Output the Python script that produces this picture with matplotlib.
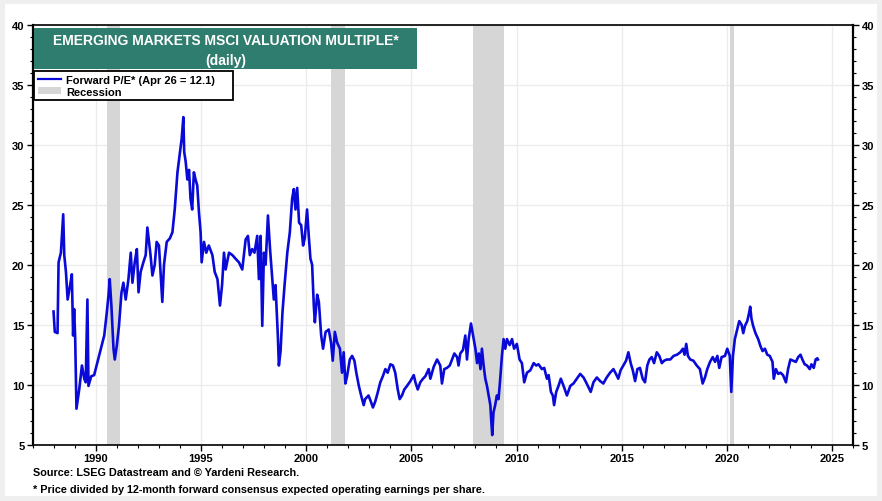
import matplotlib
matplotlib.use("Agg")
import matplotlib.pyplot as plt
from matplotlib.patches import Rectangle, Patch
from matplotlib.lines import Line2D
from matplotlib.ticker import MultipleLocator

plt.rcParams['font.family'] = ['Liberation Sans', 'DejaVu Sans']

# ---- data ----
years = [
    1987.99, 1988.05, 1988.18, 1988.23, 1988.34, 1988.45, 1988.50, 1988.58, 1988.66, 1988.78,
    1988.86, 1988.92, 1988.97, 1989.02, 1989.08, 1989.21, 1989.34, 1989.45, 1989.52, 1989.60,
    1989.65, 1989.78, 1989.92, 1990.08, 1990.24, 1990.40, 1990.52, 1990.60, 1990.66, 1990.74,
    1990.84, 1990.90, 1991.00, 1991.10, 1991.22, 1991.31, 1991.42, 1991.55, 1991.66, 1991.74,
    1991.85, 1991.95, 1992.03, 1992.13, 1992.26, 1992.37, 1992.45, 1992.53, 1992.60, 1992.69,
    1992.80, 1992.89, 1993.00, 1993.16, 1993.24, 1993.37, 1993.52, 1993.64, 1993.75, 1993.88,
    1994.00, 1994.08, 1994.16, 1994.20, 1994.27, 1994.35, 1994.43, 1994.50, 1994.58, 1994.66,
    1994.74, 1994.82, 1994.90, 1994.98, 1995.03, 1995.14, 1995.25, 1995.37, 1995.54, 1995.65,
    1995.78, 1995.90, 1996.00, 1996.09, 1996.17, 1996.33, 1996.49, 1996.64, 1996.80, 1996.96,
    1997.12, 1997.23, 1997.32, 1997.43, 1997.54, 1997.67, 1997.75, 1997.83, 1997.91, 1997.99,
    1998.07, 1998.18, 1998.28, 1998.36, 1998.46, 1998.54, 1998.65, 1998.70, 1998.78, 1998.87,
    1998.97, 1999.10, 1999.22, 1999.33, 1999.41, 1999.49, 1999.57, 1999.66, 1999.76, 1999.85,
    1999.93, 2000.04, 2000.12, 2000.20, 2000.28, 2000.36, 2000.41, 2000.52, 2000.60, 2000.71,
    2000.80, 2000.92, 2001.07, 2001.18, 2001.26, 2001.36, 2001.47, 2001.60, 2001.70, 2001.78,
    2001.86, 2001.94, 2002.07, 2002.18, 2002.29, 2002.38, 2002.50, 2002.61, 2002.73, 2002.80,
    2002.96, 2003.07, 2003.17, 2003.28, 2003.39, 2003.52, 2003.64, 2003.76, 2003.87, 2004.00,
    2004.12, 2004.23, 2004.35, 2004.44, 2004.55, 2004.66, 2004.79, 2004.95, 2005.11, 2005.19,
    2005.30, 2005.42, 2005.55, 2005.66, 2005.82, 2005.90, 2006.06, 2006.22, 2006.37, 2006.45,
    2006.56, 2006.69, 2006.82, 2006.93, 2007.04, 2007.17, 2007.24, 2007.32, 2007.45, 2007.56,
    2007.64, 2007.72, 2007.83, 2007.93, 2008.04, 2008.12, 2008.20, 2008.28, 2008.35, 2008.43,
    2008.51, 2008.59, 2008.67, 2008.75, 2008.79, 2008.84, 2008.90, 2008.98, 2009.06, 2009.14,
    2009.22, 2009.30, 2009.38, 2009.46, 2009.54, 2009.67, 2009.78, 2009.88, 2010.01, 2010.14,
    2010.25, 2010.36, 2010.49, 2010.65, 2010.81, 2010.93, 2011.04, 2011.20, 2011.31, 2011.44,
    2011.52, 2011.63, 2011.72, 2011.78, 2011.88, 2011.99, 2012.10, 2012.23, 2012.39, 2012.55,
    2012.70, 2012.86, 2013.02, 2013.18, 2013.30, 2013.41, 2013.52, 2013.65, 2013.81, 2013.97,
    2014.12, 2014.28, 2014.44, 2014.60, 2014.72, 2014.83, 2014.94, 2015.07, 2015.20, 2015.31,
    2015.42, 2015.52, 2015.63, 2015.74, 2015.86, 2015.99, 2016.10, 2016.21, 2016.31, 2016.42,
    2016.53, 2016.66, 2016.78, 2016.90, 2017.01, 2017.14, 2017.30, 2017.46, 2017.62, 2017.78,
    2017.90, 2017.98, 2018.06, 2018.14, 2018.25, 2018.40, 2018.56, 2018.71, 2018.84, 2018.95,
    2019.06, 2019.19, 2019.32, 2019.43, 2019.54, 2019.63, 2019.74, 2019.90, 2020.01, 2020.13,
    2020.20, 2020.28, 2020.37, 2020.48, 2020.58, 2020.69, 2020.77, 2020.85, 2020.96, 2021.05,
    2021.10, 2021.16, 2021.24, 2021.35, 2021.48, 2021.59, 2021.69, 2021.80, 2021.91, 2022.03,
    2022.16, 2022.22, 2022.32, 2022.43, 2022.54, 2022.66, 2022.80, 2022.90, 2023.01, 2023.14,
    2023.27, 2023.38, 2023.49, 2023.58, 2023.69, 2023.80, 2023.93, 2024.01, 2024.12, 2024.21,
    2024.29, 2024.32,
]
forward_pe = [
    16.1, 14.4, 14.3, 20.2, 21.0, 24.2, 20.8, 19.4, 17.1, 18.3,
    19.2, 14.1, 16.3, 13.8, 8.0, 9.6, 11.6, 10.5, 10.2, 17.1,
    9.9, 10.7, 10.8, 11.9, 13.0, 14.1, 16.0, 17.4, 18.8, 16.6,
    13.0, 12.1, 13.3, 14.9, 17.7, 18.5, 17.1, 18.8, 21.0, 18.5,
    20.2, 21.3, 17.7, 19.4, 20.2, 20.8, 23.1, 21.9, 20.8, 19.1,
    20.0, 21.9, 21.6, 16.9, 20.0, 21.9, 22.2, 22.7, 24.6, 27.7,
    29.4, 30.5, 32.3, 29.4, 28.6, 27.1, 27.9, 25.5, 24.6, 27.7,
    27.1, 26.6, 24.4, 22.7, 20.2, 21.9, 21.0, 21.6, 20.8, 19.4,
    18.8, 16.6, 18.3, 21.0, 19.6, 21.0, 20.8, 20.5, 20.2, 19.6,
    22.1, 22.4, 20.8, 21.3, 21.0, 22.4, 18.8, 22.4, 14.9, 21.0,
    20.0, 24.1, 21.3, 19.4, 17.1, 18.3, 14.1, 11.6, 12.8, 16.0,
    18.3, 21.0, 22.7, 25.5, 26.3, 24.6, 26.4, 23.5, 23.3, 21.6,
    22.2, 24.6, 22.4, 20.5, 20.0, 16.6, 15.2, 17.5, 16.9, 14.1,
    13.0, 14.4, 14.6, 13.5, 12.0, 14.4, 13.5, 13.0, 11.0, 12.7,
    10.1, 10.7, 12.1, 12.4, 12.0, 11.0, 9.9, 9.1, 8.3, 8.8,
    9.1, 8.6, 8.1, 8.6, 9.3, 10.2, 10.7, 11.3, 11.0, 11.7,
    11.6, 11.0, 9.6, 8.8, 9.1, 9.6, 9.9, 10.3, 10.8, 10.2,
    9.6, 10.2, 10.5, 10.7, 11.3, 10.5, 11.5, 12.1, 11.6, 10.1,
    11.3, 11.4, 11.6, 12.1, 12.6, 12.3, 11.6, 12.6, 12.9, 14.1,
    12.1, 13.8, 15.1, 14.1, 13.0, 11.8, 12.6, 11.3, 13.0, 11.6,
    10.5, 9.9, 9.1, 8.3, 7.1, 5.8, 7.7, 8.3, 9.1, 8.8,
    10.5, 12.4, 13.8, 13.0, 13.8, 13.3, 13.8, 13.0, 13.4, 12.1,
    11.8, 10.2, 11.0, 11.2, 11.8, 11.6, 11.7, 11.3, 11.4, 10.5,
    10.8, 9.4, 9.1, 8.3, 9.4, 9.9, 10.5, 9.9, 9.1, 9.9,
    10.1, 10.5, 10.9, 10.6, 10.2, 9.8, 9.4, 10.2, 10.6, 10.3,
    10.1, 10.6, 11.0, 11.3, 10.9, 10.5, 11.2, 11.6, 12.0, 12.7,
    11.8, 11.2, 10.3, 11.3, 11.4, 10.5, 10.2, 11.6, 12.1, 12.3,
    11.8, 12.7, 12.4, 11.8, 12.0, 12.1, 12.1, 12.4, 12.5, 12.7,
    13.0, 12.5, 13.4, 12.4, 12.1, 12.0, 11.6, 11.3, 10.1, 10.6,
    11.3, 11.9, 12.3, 11.9, 12.4, 11.4, 12.3, 12.4, 13.0, 12.4,
    9.4, 12.4, 13.8, 14.6, 15.3, 15.0, 14.3, 14.9, 15.3, 16.0,
    16.5, 15.5, 14.9, 14.3, 13.8, 13.2, 12.8, 13.0, 12.5, 12.4,
    11.9, 10.5, 11.3, 10.9, 11.0, 10.8, 10.2, 11.3, 12.1, 12.0,
    11.9, 12.3, 12.5, 12.1, 11.7, 11.6, 11.3, 11.7, 11.4, 12.1,
    12.2, 12.1,
]
recession_start = [1990.55, 2001.20, 2007.94, 2020.12]
recession_end = [1991.17, 2001.84, 2009.42, 2020.34]

title_text = "EMERGING MARKETS MSCI VALUATION MULTIPLE*\n(daily)"
series_label = "Forward P/E* (Apr 26 = 12.1)"
source_text = "Source: LSEG Datastream and \u00a9 Yardeni Research."
note_text = "* Price divided by 12-month forward consensus expected operating earnings per share."

LINE_COLOR = '#0a0ad8'
REC_COLOR = '#d6d6d6'

W, H = 882, 502
fig = plt.figure(figsize=(W / 100, H / 100), dpi=100)
fig.patch.set_facecolor('#efefef')
fig.add_artist(Rectangle((5 / W, 5 / H), (W - 10) / W, (H - 10) / H,
                         transform=fig.transFigure, facecolor='white',
                         edgecolor='none', zorder=0))

ax = fig.add_axes([32.7 / W, 1 - 445.7 / H, (853.3 - 32.7) / W, (445.7 - 25.7) / H])
ax.set_facecolor('white')

for s, e in zip(recession_start, recession_end):
    ax.axvspan(s, e, color=REC_COLOR, lw=0, zorder=1)

ax.plot(years, forward_pe, color=LINE_COLOR, lw=1.9, zorder=3, solid_joinstyle='round')

ax.set_xlim(1987.0, 2026.0)
ax.set_ylim(5, 40)
ax.xaxis.set_major_locator(MultipleLocator(5))
ax.xaxis.set_minor_locator(MultipleLocator(1))
ax.yaxis.set_major_locator(MultipleLocator(5))
ax.yaxis.set_minor_locator(MultipleLocator(1))
ax.grid(True, which='major', color='#ececec', lw=1.0, zorder=0)
ax.set_axisbelow(True)

ax.tick_params(axis='both', which='both', direction='out', labelsize=8, colors='black')
ax.tick_params(axis='y', which='major', length=4, width=1, left=True, right=True,
               labelleft=True, labelright=True, pad=2)
ax.tick_params(axis='y', which='minor', length=2, width=0.8, left=True, right=True)
ax.tick_params(axis='x', which='major', length=4, width=1, pad=2)
ax.tick_params(axis='x', which='minor', length=2, width=0.8)
for t in ax.yaxis.get_major_ticks():
    t.label1.set_fontweight('bold')
    t.label2.set_fontweight('bold')
for t in ax.xaxis.get_major_ticks():
    t.label1.set_fontweight('bold')

for sp in ax.spines.values():
    sp.set_color('black')
    sp.set_linewidth(1.2)
ax.spines['left'].set_linewidth(1.6)
ax.spines['right'].set_linewidth(1.6)

# title box
fig.add_artist(Rectangle((34 / W, 1 - 70 / H), 383 / W, 41 / H,
                         transform=fig.transFigure, facecolor='#2f7d6e',
                         edgecolor='none', zorder=5))
fig.text(225.5 / W, 1 - 51 / H, title_text, ha='center', va='center',
         color='white', fontsize=10, fontweight='bold', linespacing=1.5, zorder=6)

# legend
handles = [Line2D([], [], color=LINE_COLOR, lw=1.6),
           Patch(facecolor=REC_COLOR, edgecolor='none')]
leg = fig.legend(handles, [series_label, 'Recession'],
                 loc='upper left', bbox_to_anchor=(34 / W, 1 - 102 / H, 199 / W, 30 / H),
                 bbox_transform=fig.transFigure, mode='expand',
                 frameon=True, fancybox=False,
                 edgecolor='black', framealpha=1, borderpad=0.35, labelspacing=0.15,
                 handlelength=2.1, handleheight=0.6, handletextpad=0.45,
                 borderaxespad=0, prop={'weight': 'bold', 'size': 8})
leg.get_frame().set_linewidth(1.3)
leg.set_zorder(6)

fig.text(33 / W, 1 - 473 / H, source_text, ha='left', va='center',
         fontsize=7.8, fontweight='bold')
fig.text(33 / W, 1 - 490 / H, note_text, ha='left', va='center',
         fontsize=7.8, fontweight='bold')

fig.savefig('out.png', dpi=100, facecolor=fig.get_facecolor())
